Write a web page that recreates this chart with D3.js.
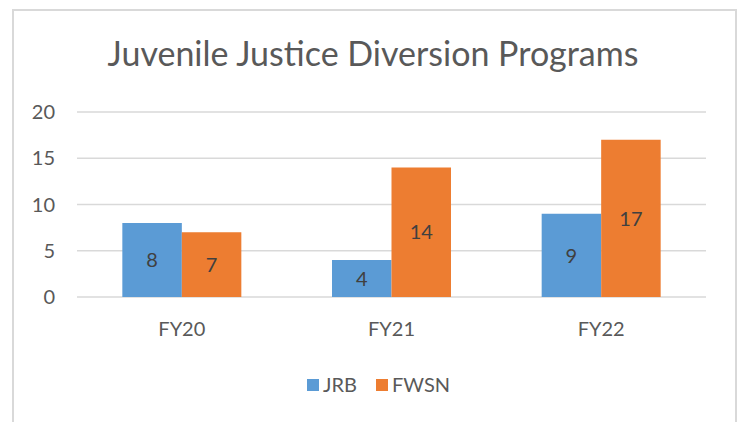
<!DOCTYPE html>
<html>
<head>
<meta charset="utf-8">
<script src="https://cdn.jsdelivr.net/npm/d3@7"></script>
<style>
  body { margin: 0; background: #fff; }
  svg { display: block; font-family: Lato, "Open Sans", sans-serif; }
</style>
</head>
<body>
<div id="chart"></div>
<script>
// datos del gráfico
const categories = ['FY20', 'FY21', 'FY22'];
const seriesNames = ['JRB', 'FWSN'];
const jrb = [8, 4, 9];
const fwsn = [7, 14, 17];
const yTicks = [0, 5, 10, 15, 20];

const width = 741;
const height = 422;
const colors = ['#5b9bd5', '#ed7d31'];
const textColor = '#595959';

const svg = d3.select('#chart')
  .append('svg')
  .attr('width', width)
  .attr('height', height);

// marco del gráfico
svg.append('rect')
  .attr('x', 13)
  .attr('y', 10)
  .attr('width', 723)
  .attr('height', 430)
  .attr('fill', '#fff')
  .attr('stroke', '#d9d9d9')
  .attr('stroke-width', 2);

// título
svg.append('text')
  .attr('x', 373)
  .attr('y', 66)
  .attr('text-anchor', 'middle')
  .attr('font-size', 34)
  .attr('fill', textColor)
  .text('Juvenile Justice Diversion Programs');

const plot = { left: 77, right: 706, top: 112, bottom: 297 };

const x0 = d3.scaleBand()
  .domain(categories)
  .range([plot.left, plot.right])
  .paddingInner(0)
  .paddingOuter(0);

const x1 = d3.scaleBand()
  .domain(seriesNames)
  .range([0, 119])
  .padding(0);

const y = d3.scaleLinear()
  .domain([0, 20])
  .range([plot.bottom, plot.top]);

// líneas de cuadrícula
svg.append('g')
  .selectAll('line')
  .data(yTicks)
  .join('line')
  .attr('x1', plot.left)
  .attr('x2', plot.right)
  .attr('y1', d => y(d))
  .attr('y2', d => y(d))
  .attr('stroke', '#d9d9d9')
  .attr('stroke-width', 1.5);

// etiquetas eje Y
svg.append('g')
  .selectAll('text')
  .data(yTicks)
  .join('text')
  .attr('x', 55)
  .attr('y', d => y(d))
  .attr('dy', '0.36em')
  .attr('text-anchor', 'end')
  .attr('font-size', 20)
  .attr('fill', textColor)
  .text(d => d);

// barras
const rows = categories.map((c, i) => ({ cat: c, values: [jrb[i], fwsn[i]] }));

const groups = svg.append('g')
  .selectAll('g')
  .data(rows)
  .join('g')
  .attr('transform', d => `translate(${x0(d.cat) + x0.bandwidth() / 2 - 59.5},0)`);

groups.selectAll('rect')
  .data(d => d.values.map((v, j) => ({ key: seriesNames[j], value: v, j })))
  .join('rect')
  .attr('x', d => x1(d.key))
  .attr('y', d => y(d.value))
  .attr('width', x1.bandwidth())
  .attr('height', d => y(0) - y(d.value))
  .attr('fill', d => colors[d.j]);

// valores dentro de las barras
groups.selectAll('text')
  .data(d => d.values.map((v, j) => ({ key: seriesNames[j], value: v })))
  .join('text')
  .attr('x', d => x1(d.key) + x1.bandwidth() / 2)
  .attr('y', d => (y(d.value) + y(0)) / 2)
  .attr('dy', '0.36em')
  .attr('text-anchor', 'middle')
  .attr('font-size', 20)
  .attr('fill', '#404040')
  .text(d => d.value);

// etiquetas eje X
svg.append('g')
  .selectAll('text')
  .data(categories)
  .join('text')
  .attr('x', d => x0(d) + x0.bandwidth() / 2)
  .attr('y', 336)
  .attr('text-anchor', 'middle')
  .attr('font-size', 20)
  .attr('fill', textColor)
  .text(d => d);

// leyenda
const legend = svg.append('g');
const legendX = [307, 376];
seriesNames.forEach((name, i) => {
  legend.append('rect')
    .attr('x', legendX[i])
    .attr('y', 379)
    .attr('width', 12)
    .attr('height', 12)
    .attr('fill', colors[i]);
  legend.append('text')
    .attr('x', legendX[i] + 16)
    .attr('y', 392)
    .attr('font-size', 20)
    .attr('fill', textColor)
    .text(name);
});
</script>
</body>
</html>
